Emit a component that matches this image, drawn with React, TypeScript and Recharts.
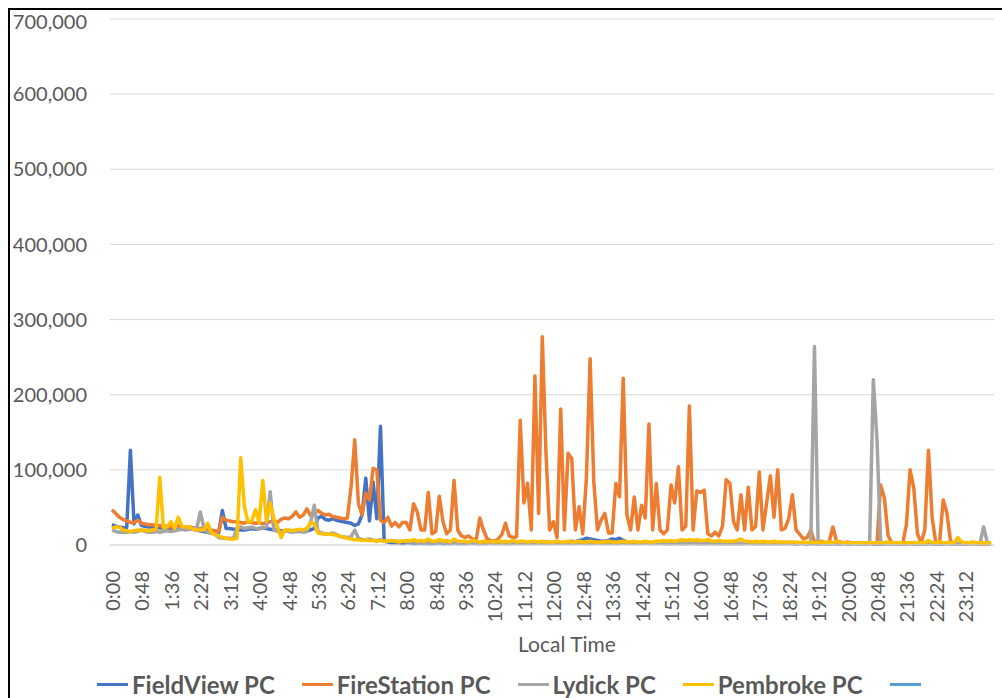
import React from "react";
import {
  LineChart,
  Line,
  XAxis,
  YAxis,
  CartesianGrid,
  Legend,
} from "recharts";

// one sample every 6 minutes, values in thousands
const STEP_MINUTES = 6;
const SAMPLE_COUNT = 240;

const times = Array.from({ length: SAMPLE_COUNT }, (_, i) => {
  const m = i * STEP_MINUTES;
  return `${Math.floor(m / 60)}:${String(m % 60).padStart(2, "0")}`;
});

const yTicks = [0, 100000, 200000, 300000, 400000, 500000, 600000, 700000];

const seriesNames = ["FieldView PC", "FireStation PC", "Lydick PC", "Pembroke PC", ""];
const seriesColors = ["#4472c4", "#ed7d31", "#a5a5a5", "#ffc000", "#5b9bd5"];

const fieldView = [
  27, 25, 24, 23, 23, 126, 28, 40,
  26, 25, 24, 24, 23, 23, 22, 22,
  22, 21, 21, 21, 22, 21, 21, 20,
  19, 18, 17, 16, 16, 16, 46, 22,
  22, 21, 21, 20, 20, 21, 22, 21,
  22, 23, 22, 21, 20, 20, 19, 19,
  19, 19, 18, 18, 18, 19, 20, 22,
  36, 38, 34, 33, 35, 33, 32, 31,
  30, 29, 26, 28, 40, 89, 32, 84,
  35, 158, 5, 4, 3, 3, 3, 2,
  3, 3, 2, 2, 3, 2, 2, 2,
  2, 3, 2, 2, 2, 3, 2, 2,
  2, 2, 3, 2, 2, 2, 2, 3,
  2, 2, 3, 2, 2, 3, 2, 3,
  3, 2, 3, 4, 3, 3, 4, 3,
  3, 4, 3, 3, 4, 5, 4, 6,
  7, 9, 8, 7, 6, 5, 5, 6,
  8, 7, 9, 6, 4, 3, 4, 3,
  3, 4, 3, 3, 2, 3, 2, 2,
  2, 2, 3, 2, 2, 2, 3, 2,
  2, 2, 2, 3, 2, 2, 2, 2,
  2, 2, 2, 2, 2, 3, 2, 2,
  2, 2, 2, 2, 2, 2, 2, 2,
  2, 2, 1, 2, 2, 1, 2, 2,
  1, 2, 1, 1, 2, 1, 1, 2,
  1, 1, 2, 1, 1, 1, 2, 1,
  1, 1, 1, 2, 1, 1, 1, 1,
  1, 2, 1, 1, 1, 1, 2, 1,
  1, 1, 1, 2, 1, 1, 1, 1,
  1, 1, 2, 1, 1, 1, 1, 1,
];

const fireStation = [
  47, 42, 37, 34, 32, 30, 30, 33,
  29, 28, 27, 27, 26, 26, 25, 25,
  24, 25, 26, 24, 23, 24, 23, 22,
  22, 21, 20, 20, 19, 18, 37, 33,
  32, 31, 31, 30, 29, 31, 30, 29,
  30, 28, 30, 31, 32, 30, 34, 36,
  35, 38, 44, 37, 40, 48, 39, 42,
  46, 42, 40, 41, 38, 37, 36, 35,
  36, 77, 140, 55, 40, 69, 60, 102,
  100, 33, 30, 37, 25, 30, 24, 30,
  30, 20, 55, 44, 20, 20, 70, 15,
  18, 65, 31, 15, 20, 86, 20, 12,
  10, 12, 8, 6, 36, 20, 8, 6,
  5, 8, 14, 29, 12, 10, 11, 166,
  56, 82, 20, 225, 42, 277, 122, 20,
  31, 10, 181, 20, 122, 115, 20, 51,
  15, 90, 248, 84, 20, 33, 42, 16,
  16, 82, 64, 222, 40, 20, 64, 20,
  53, 36, 161, 20, 82, 20, 15, 20,
  80, 56, 104, 20, 25, 185, 20, 72,
  70, 73, 15, 12, 17, 12, 25, 87,
  82, 31, 20, 67, 20, 77, 20, 25,
  97, 20, 56, 92, 37, 100, 20, 22,
  35, 67, 20, 14, 8, 10, 20, 4,
  4, 5, 3, 4, 24, 5, 4, 3,
  4, 3, 3, 3, 2, 3, 3, 2,
  2, 80, 63, 13, 3, 2, 2, 2,
  27, 100, 76, 15, 3, 20, 126, 36,
  3, 2, 60, 43, 5, 2, 2, 2,
  2, 2, 1, 2, 2, 1, 2, 1,
];

const lydick = [
  20, 18, 17, 17, 17, 18, 17, 18,
  20, 18, 17, 17, 18, 17, 18, 19,
  18, 19, 20, 21, 20, 21, 22, 21,
  44, 22, 17, 16, 14, 10, 9, 9,
  9, 9, 22, 24, 22, 23, 24, 22,
  21, 23, 24, 71, 20, 18, 18, 19,
  18, 17, 18, 19, 17, 18, 30, 53,
  18, 16, 15, 15, 16, 14, 11, 11,
  10, 11, 20, 9, 7, 7, 8, 6,
  6, 7, 5, 5, 6, 5, 5, 5,
  4, 4, 4, 3, 4, 3, 3, 4,
  3, 3, 4, 3, 3, 3, 3, 3,
  3, 2, 3, 3, 2, 3, 3, 2,
  3, 2, 2, 3, 2, 2, 3, 2,
  2, 3, 2, 2, 3, 2, 2, 2,
  2, 2, 3, 2, 2, 2, 2, 3,
  2, 2, 2, 2, 3, 2, 2, 2,
  2, 2, 2, 3, 2, 2, 2, 2,
  2, 3, 2, 2, 2, 2, 3, 2,
  2, 2, 2, 2, 2, 2, 2, 2,
  2, 2, 3, 2, 2, 2, 2, 2,
  2, 2, 2, 2, 2, 2, 2, 2,
  2, 2, 2, 2, 2, 2, 2, 3,
  2, 2, 2, 2, 2, 2, 3, 264,
  3, 2, 2, 2, 2, 2, 2, 2,
  2, 2, 2, 2, 2, 2, 3, 220,
  140, 3, 2, 2, 2, 2, 2, 2,
  2, 2, 2, 2, 2, 2, 2, 2,
  2, 2, 2, 2, 2, 2, 2, 2,
  2, 2, 2, 3, 2, 24, 3, 2,
];

const pembroke = [
  22, 24, 24, 20, 19, 18, 19, 20,
  19, 20, 19, 20, 21, 90, 22, 24,
  31, 22, 37, 25, 24, 24, 21, 20,
  20, 20, 29, 16, 14, 12, 10, 9,
  8, 8, 9, 116, 51, 30, 32, 47,
  30, 86, 32, 56, 35, 24, 10, 20,
  20, 19, 20, 21, 20, 22, 30, 28,
  16, 15, 14, 15, 14, 13, 12, 10,
  9, 8, 7, 7, 6, 7, 6, 6,
  5, 6, 5, 5, 6, 5, 4, 5,
  6, 5, 7, 5, 6, 5, 8, 5,
  5, 7, 5, 6, 4, 8, 5, 5,
  5, 4, 6, 5, 4, 5, 4, 5,
  4, 5, 4, 5, 4, 6, 4, 5,
  5, 4, 5, 5, 4, 5, 4, 4,
  4, 5, 4, 4, 5, 4, 4, 5,
  4, 4, 5, 4, 4, 4, 4, 5,
  4, 4, 4, 5, 4, 4, 5, 4,
  4, 5, 4, 4, 5, 5, 6, 5,
  6, 5, 6, 7, 6, 7, 6, 7,
  6, 6, 7, 5, 5, 6, 5, 5,
  5, 5, 6, 8, 5, 5, 4, 5,
  4, 5, 4, 4, 5, 4, 4, 4,
  4, 4, 4, 3, 4, 3, 4, 3,
  3, 4, 3, 4, 3, 5, 3, 3,
  3, 3, 3, 3, 3, 3, 3, 3,
  3, 3, 3, 4, 3, 3, 3, 3,
  3, 3, 3, 3, 3, 3, 6, 3,
  3, 4, 3, 3, 3, 3, 10, 4,
  3, 3, 4, 3, 3, 3, 3, 3,
];

const data = times.map((t, i) => ({
  time: t,
  fieldView: fieldView[i] * 1000,
  fireStation: fireStation[i] * 1000,
  lydick: lydick[i] * 1000,
  pembroke: pembroke[i] * 1000,
  blank: null,
}));

const seriesKeys = ["fieldView", "fireStation", "lydick", "pembroke", "blank"];

const FONT = "Lato, 'Open Sans', sans-serif";
const TEXT = "#595959";

function TimeTick({ x, y, payload }: any) {
  return (
    <text
      transform={`translate(${x},${y + 18}) rotate(-90)`}
      textAnchor="end"
      dominantBaseline="central"
      fontFamily={FONT}
      fontSize={20}
      fill={TEXT}
    >
      {payload.value}
    </text>
  );
}

function LegendRow() {
  return (
    <div
      style={{
        display: "flex",
        justifyContent: "flex-start",
        alignItems: "center",
        height: 30,
        paddingLeft: 87,
        fontFamily: FONT,
        fontWeight: 700,
        fontSize: 24,
        color: TEXT,
        whiteSpace: "nowrap",
      }}
    >
      {seriesNames.map((name, i) => (
        <div key={i} style={{ display: "flex", alignItems: "center", marginRight: 27 }}>
          <span
            style={{
              display: "inline-block",
              width: 31,
              height: 3,
              background: seriesColors[i],
              marginRight: 4,
            }}
          />
          <span>{name}</span>
        </div>
      ))}
    </div>
  );
}

export default function App() {
  return (
    <div style={{ position: "fixed", left: 0, top: 0, width: 1002, height: 698, overflow: "hidden", background: "#fff" }}>
      <div
        style={{
          position: "absolute",
          left: 8,
          top: 8,
          width: 1000,
          height: 700,
          border: "2px solid #000",
          background: "#fff",
        }}
      >
        <LineChart
          width={1000}
          height={700}
          data={data}
          margin={{ top: 9, right: 16, bottom: 11, left: 0 }}
        >
          <CartesianGrid vertical={false} stroke="#d9d9d9" strokeWidth={1} />
          <XAxis
            dataKey="time"
            interval={7}
            height={124}
            tickLine={false}
            axisLine={{ stroke: "#d9d9d9" }}
            tick={<TimeTick />}
            padding={{ left: 2, right: 3 }}
            label={{
              value: "Local Time",
              position: "insideBottom",
              offset: 17,
              dx: 15,
              fontFamily: FONT,
              fontSize: 21,
              fill: TEXT,
            }}
          />
          <YAxis
            domain={[0, 700000]}
            ticks={yTicks}
            width={100}
            axisLine={false}
            tickLine={false}
            tickSize={0}
            tickMargin={23}
            tick={{ fontFamily: FONT, fontSize: 20, fill: TEXT }}
            tickFormatter={(v: number) => v.toLocaleString("en-US")}
          />
          <Legend verticalAlign="bottom" content={() => <LegendRow />} />
          {seriesKeys.map((k, i) => (
            <Line
              key={k}
              type="linear"
              dataKey={k}
              name={seriesNames[i]}
              stroke={seriesColors[i]}
              strokeWidth={3.5}
              strokeLinejoin="round"
              dot={false}
              activeDot={false}
              isAnimationActive={false}
            />
          ))}
        </LineChart>
      </div>
    </div>
  );
}
